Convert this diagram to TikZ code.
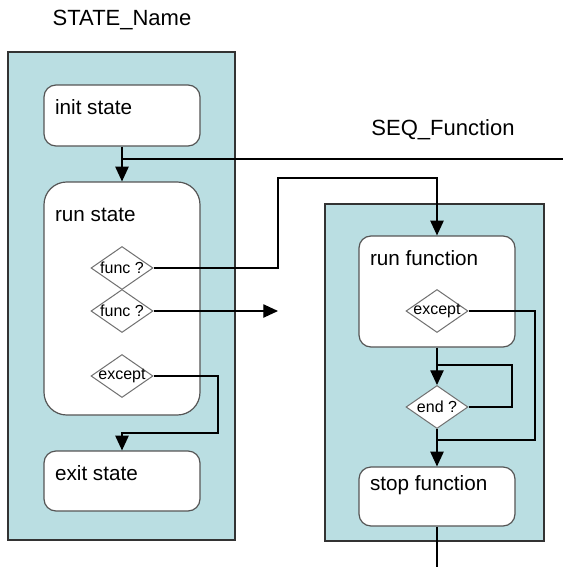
\documentclass[tikz,border=0pt]{standalone}
\usepackage{fontspec}
\setmainfont{Liberation Sans}
\usetikzlibrary{shapes.geometric,arrows.meta}
\definecolor{panel}{RGB}{186,222,226}
\definecolor{edgegray}{RGB}{85,85,85}
\definecolor{diagray}{RGB}{112,112,112}

\begin{document}
\begin{tikzpicture}[x=0.75pt, y=-0.75pt, font=\fontsize{15.5}{18}\selectfont,
    panelbox/.style={draw=black!80, line width=1.1pt, fill=panel, inner sep=0pt},
    statebox/.style={draw=edgegray, line width=0.9pt, fill=white, rounded corners=9pt, minimum width=117pt, inner sep=0pt},
    decision/.style={draw=diagray, line width=0.75pt, fill=white, diamond, minimum width=46.5pt, minimum height=32.25pt, inner sep=0pt},
    boxtext/.style={anchor=west, xshift=5.25pt, yshift=-17pt},
    titletext/.style={font=\fontsize{16.5}{20}\selectfont},
    smalltext/.style={font=\fontsize{12}{14}\selectfont},
    flow/.style={line width=0.9pt},
    arrowflow/.style={flow, -{Triangle[length=11pt,width=10pt]}}]
    \useasboundingbox (0,0) rectangle (563,567);

    \node [panelbox, minimum width=170.25pt, minimum height=366pt] (statepanel) at (121.5,296) {};
    \node [titletext] (statetitle) at (122,20) {STATE\_Name};
    \node [statebox, minimum height=45.75pt, label={[boxtext]north west:init state}] (init) at (122,115.5) {};
    \node [statebox, rounded corners=17pt, minimum height=174.75pt, label={[boxtext, yshift=-8pt]north west:run state}] (run) at (122,298.5) {};
    \node [statebox, minimum height=45pt, label={[boxtext]north west:exit state}] (exit) at (122,481) {};

    \node [decision, label={[smalltext]center:func ?}] (func1) at (122,268) {};
    \node [decision, label={[smalltext]center:func ?}] (func2) at (122,311) {};
    \node [decision, label={[smalltext]center:except}] (except1) at (122,376) {};

    \node [panelbox, minimum width=164.25pt, minimum height=252.75pt] (seqpanel) at (434.5,372.5) {};
    \node [titletext] (seqtitle) at (443,130) {SEQ\_Function};
    \node [statebox, minimum height=83.25pt, label={[boxtext]north west:run function}] (runfn) at (437,291.5) {};
    \node [statebox, minimum height=44.25pt, label={[boxtext, yshift=3pt]north west:stop function}] (stopfn) at (437,496.5) {};

    \node [decision, label={[smalltext]center:except}] (except2) at (437,311) {};
    \node [decision, label={[smalltext]center:end ?}] (endq) at (437,407) {};

    \coordinate (split) at (122,159);
    \coordinate (offeast) at (563,159);
    \coordinate (callout) at (278,311);
    \coordinate (loopin) at (437,365);
    \coordinate (errin) at (437,440);
    \coordinate (offsouth) at (437,567);

    \draw [arrowflow] (init) -- (run);
    \draw [flow] (split) -- (offeast);
    \draw [arrowflow] (func1.east) -| (278,178) -| (runfn.north);
    \draw [arrowflow] (func2.east) -- (callout);
    \draw [arrowflow] (except1.east) -| (218,433) -| (exit.north);

    \draw [arrowflow] (runfn) -- (endq);
    \draw [flow] (endq.east) -| (512,365) -- (loopin);
    \draw [flow] (except2.east) -| (535,440) -- (errin);
    \draw [arrowflow] (endq) -- (stopfn);
    \draw [flow] (stopfn) -- (offsouth);
\end{tikzpicture}
\end{document}
